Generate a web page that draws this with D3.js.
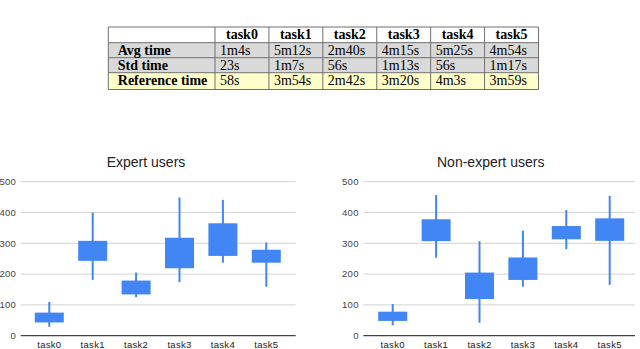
<!DOCTYPE html>
<html lang="en">
<head>
  <meta charset="UTF-8">
  <title>task times</title>
  <style>
    body { margin: 0; background: #fff; }
    svg { display: block; }
  </style>
</head>
<body>
  <div id="chart"></div>
</body>
<script src="https://cdn.jsdelivr.net/npm/d3@7"></script>
<script>
  // table data
  var tasks = ['task0', 'task1', 'task2', 'task3', 'task4', 'task5']
  var rowNames = ['Avg time', 'Std time', 'Reference time']
  var avgTime = ['1m4s', '5m12s', '2m40s', '4m15s', '5m25s', '4m54s']
  var stdTime = ['23s', '1m7s', '56s', '1m13s', '56s', '1m17s']
  var refTime = ['58s', '3m54s', '2m42s', '3m20s', '4m3s', '3m59s']

  // candlestick data (seconds): low, box bottom, box top, high
  var expertLow  = [29, 181, 125, 174, 237, 159]
  var expertQ1   = [43, 243, 134, 219, 259, 237]
  var expertQ3   = [75, 308, 179, 318, 365, 279]
  var expertHigh = [110, 400, 205, 449, 441, 303]

  var nonLow  = [34, 253, 42, 159, 281, 165]
  var nonQ1   = [48, 307, 119, 181, 313, 308]
  var nonQ3   = [78, 378, 205, 254, 356, 381]
  var nonHigh = [103, 457, 307, 341, 408, 454]

  var yTicks = [0, 100, 200, 300, 400, 500]

  var width = 640
  var height = 349
  var blue = '#4285f4'

  var svg = d3.select('#chart').append('svg')
    .attr('width', width)
    .attr('height', height)

  // ---- table ----
  var rowY = [27, 42.7, 57.7, 72.7, 89.5]
  var rowFill = ['#ffffff', '#d9d9d9', '#d9d9d9', '#fefec8']
  var colX = d3.scaleBand().domain(tasks).range([215, 538.5])
  var tableLeft = 108.3
  var tableRight = 538.5
  var rows = [tasks, avgTime, stdTime, refTime]
  var serif = '"Liberation Serif", "Times New Roman", serif'

  var table = svg.append('g')
  table.selectAll('rect.row')
    .data(rows)
    .enter()
    .append('rect')
    .attr('x', tableLeft)
    .attr('y', (d, i) => rowY[i])
    .attr('width', tableRight - tableLeft)
    .attr('height', (d, i) => rowY[i + 1] - rowY[i])
    .attr('fill', (d, i) => rowFill[i])

  // grid lines of the table
  rowY.forEach(function (y) {
    table.append('line')
      .attr('x1', tableLeft).attr('x2', tableRight)
      .attr('y1', y).attr('y2', y)
      .attr('stroke', '#6f6f6f').attr('stroke-width', 1)
  })
  var vLines = [tableLeft].concat(tasks.map(t => colX(t)), [tableRight])
  vLines.forEach(function (x) {
    table.append('line')
      .attr('x1', x).attr('x2', x)
      .attr('y1', rowY[0]).attr('y2', rowY[rowY.length - 1])
      .attr('stroke', '#6f6f6f').attr('stroke-width', 1)
  })

  // header
  table.selectAll('text.head')
    .data(tasks)
    .enter()
    .append('text')
    .attr('x', d => colX(d) + colX.bandwidth() / 2)
    .attr('y', rowY[0] + 12)
    .attr('text-anchor', 'middle')
    .style('font-family', serif)
    .style('font-size', '14px')
    .style('font-weight', 'bold')
    .text(d => d)

  // row labels
  table.selectAll('text.rowname')
    .data(rowNames)
    .enter()
    .append('text')
    .attr('x', tableLeft + 9.5)
    .attr('y', (d, i) => rowY[i + 1] + 11.8)
    .style('font-family', serif)
    .style('font-size', '14px')
    .style('font-weight', 'bold')
    .text(d => d)

  // values
  ;[avgTime, stdTime, refTime].forEach(function (vals, r) {
    table.selectAll('text.v' + r)
      .data(vals)
      .enter()
      .append('text')
      .attr('x', (d, i) => colX(tasks[i]) + 5)
      .attr('y', rowY[r + 1] + 11.8)
      .style('font-family', serif)
      .style('font-size', '14px')
      .text(d => d)
  })

  // ---- candlestick charts ----
  var y = d3.scaleLinear().domain([0, 500]).range([335.7, 181.7])
  var sans = '"Liberation Sans", Arial, sans-serif'

  function drawChart(title, low, q1, q3, high, gridL, gridR, firstX, lastX, titleX) {
    var g = svg.append('g')
    var x = d3.scalePoint().domain(tasks).range([firstX, lastX])

    g.selectAll('line.grid')
      .data(yTicks.slice(1))
      .enter()
      .append('line')
      .attr('x1', gridL).attr('x2', gridR)
      .attr('y1', d => y(d)).attr('y2', d => y(d))
      .attr('stroke', '#d2d2d2').attr('stroke-width', 1)

    g.append('line')
      .attr('x1', gridL).attr('x2', gridR)
      .attr('y1', y(0)).attr('y2', y(0))
      .attr('stroke', '#444').attr('stroke-width', 1.3)

    g.selectAll('text.ytick')
      .data(yTicks)
      .enter()
      .append('text')
      .attr('x', gridL - 4.5)
      .attr('y', d => y(d))
      .attr('dy', '0.35em')
      .attr('text-anchor', 'end')
      .style('font-family', sans)
      .style('font-size', '9.5px')
      .style('letter-spacing', '0.3px')
      .attr('fill', '#444')
      .text(d => d)

    g.selectAll('text.xtick')
      .data(tasks)
      .enter()
      .append('text')
      .attr('x', d => x(d))
      .attr('y', 347.5)
      .attr('text-anchor', 'middle')
      .style('font-family', sans)
      .style('font-size', '9.5px')
      .style('letter-spacing', '0.3px')
      .attr('fill', '#222')
      .text(d => d)

    g.append('text')
      .attr('x', titleX)
      .attr('y', 167)
      .attr('text-anchor', 'middle')
      .style('font-family', sans)
      .style('font-size', '14px')
      .attr('fill', '#222')
      .text(title)

    var boxW = 29
    g.selectAll('line.whisker')
      .data(tasks)
      .enter()
      .append('line')
      .attr('x1', d => x(d)).attr('x2', d => x(d))
      .attr('y1', (d, i) => y(high[i]))
      .attr('y2', (d, i) => y(low[i]))
      .attr('stroke', blue).attr('stroke-width', 2)

    g.selectAll('rect.box')
      .data(tasks)
      .enter()
      .append('rect')
      .attr('x', d => x(d) - boxW / 2)
      .attr('width', boxW)
      .attr('y', (d, i) => y(q3[i]))
      .attr('height', (d, i) => y(q1[i]) - y(q3[i]))
      .attr('fill', blue)
  }

  drawChart('Expert users', expertLow, expertQ1, expertQ3, expertHigh, 20.7, 295.7, 49.3, 266.3, 146)
  drawChart('Non-expert users', nonLow, nonQ1, nonQ3, nonHigh, 363.3, 635, 392.7, 609.7, 490.7)
</script>
</html>
